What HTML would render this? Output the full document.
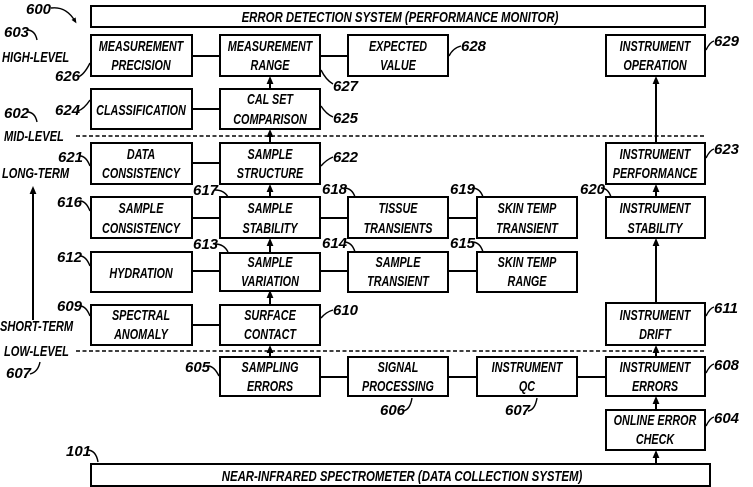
<!DOCTYPE html>
<html><head><meta charset="utf-8"><style>
html,body{margin:0;padding:0;background:#fff}
svg{display:block}
.b{fill:#fff;stroke:#000;stroke-width:2}
.l{stroke:#000;stroke-width:2;fill:none}
.d{stroke:#000;stroke-width:1.6;stroke-dasharray:4,2.5;fill:none}
.c{stroke:#000;stroke-width:1.4;fill:none}
text{font-family:"Liberation Sans",sans-serif;font-weight:bold;font-style:italic;font-size:15px;fill:#000}
.n{font-size:14px}
</style></head><body>
<svg width="753" height="487" viewBox="0 0 753 487" xmlns="http://www.w3.org/2000/svg">
<defs><marker id="a" markerWidth="4" markerHeight="4" refX="2" refY="2" orient="auto"><path d="M0,0.3 L4,2 L0,3.7 z" fill="#000"/></marker></defs>

<rect class="b" x="91" y="6" width="614" height="21"/>
<rect class="b" x="91" y="464" width="619" height="22"/>

<line class="d" x1="76" y1="136" x2="705" y2="136"/>
<line class="d" x1="76" y1="351" x2="705" y2="351"/>

<g class="l">
<line x1="192" y1="56" x2="220" y2="56"/><line x1="320" y1="56" x2="348" y2="56"/>
<line x1="192" y1="109" x2="220" y2="109"/>
<line x1="192" y1="163" x2="220" y2="163"/>
<line x1="192" y1="218" x2="220" y2="218"/><line x1="320" y1="218" x2="348" y2="218"/><line x1="448" y1="218" x2="477" y2="218"/>
<line x1="192" y1="271" x2="220" y2="271"/><line x1="320" y1="271" x2="348" y2="271"/><line x1="448" y1="271" x2="477" y2="271"/>
<line x1="192" y1="325" x2="220" y2="325"/>
<line x1="320" y1="377" x2="348" y2="377"/><line x1="448" y1="377" x2="477" y2="377"/><line x1="577" y1="377" x2="606" y2="377"/>
</g>
<g class="l" marker-end="url(#a)">
<line x1="270" y1="89" x2="270" y2="80"/>
<line x1="270" y1="143" x2="270" y2="133"/>
<line x1="270" y1="197" x2="270" y2="188"/>
<line x1="270" y1="253" x2="270" y2="242"/>
<line x1="270" y1="305" x2="270" y2="294"/>
<line x1="270" y1="357" x2="270" y2="349"/>
<line x1="656" y1="143" x2="656" y2="80"/>
<line x1="656" y1="197" x2="656" y2="188"/>
<line x1="656" y1="303" x2="656" y2="242"/>
<line x1="656" y1="357" x2="656" y2="349"/>
<line x1="656" y1="410" x2="656" y2="400"/>
<line x1="656" y1="464" x2="656" y2="454"/>
<line x1="33" y1="320" x2="33" y2="190"/>
</g>

<g class="b">
<rect x="91" y="35" width="101" height="41"/><rect x="220" y="35" width="100" height="41"/><rect x="348" y="35" width="100" height="41"/><rect x="606" y="35" width="99" height="41"/>
<rect x="91" y="89" width="101" height="40"/><rect x="220" y="89" width="100" height="40"/>
<rect x="91" y="143" width="101" height="41"/><rect x="220" y="143" width="100" height="41"/><rect x="606" y="143" width="99" height="41"/>
<rect x="91" y="197" width="101" height="41"/><rect x="220" y="197" width="100" height="41"/><rect x="348" y="197" width="100" height="41"/><rect x="477" y="197" width="100" height="41"/><rect x="606" y="197" width="99" height="41"/>
<rect x="91" y="252" width="101" height="40"/><rect x="220" y="253" width="100" height="38"/><rect x="348" y="252" width="100" height="40"/><rect x="477" y="252" width="100" height="40"/>
<rect x="91" y="305" width="101" height="40"/><rect x="220" y="305" width="100" height="40"/><rect x="606" y="303" width="99" height="42"/>
<rect x="220" y="357" width="100" height="39"/><rect x="348" y="357" width="100" height="39"/><rect x="477" y="357" width="100" height="39"/><rect x="606" y="357" width="99" height="39"/>
<rect x="606" y="410" width="99" height="40"/>
</g>

<g text-anchor="middle">
<text transform="translate(400,22) scale(0.76,1)">ERROR DETECTION SYSTEM (PERFORMANCE MONITOR)</text>
<text transform="translate(402,481) scale(0.76,1)">NEAR-INFRARED SPECTROMETER (DATA COLLECTION SYSTEM)</text>

<text transform="translate(141,51) scale(0.72,1)">MEASUREMENT</text><text transform="translate(141,70) scale(0.72,1)">PRECISION</text>
<text transform="translate(270,51) scale(0.72,1)">MEASUREMENT</text><text transform="translate(270,70) scale(0.72,1)">RANGE</text>
<text transform="translate(398,51) scale(0.72,1)">EXPECTED</text><text transform="translate(398,70) scale(0.72,1)">VALUE</text>
<text transform="translate(655,51) scale(0.72,1)">INSTRUMENT</text><text transform="translate(655,70) scale(0.72,1)">OPERATION</text>

<text transform="translate(141,115) scale(0.72,1)">CLASSIFICATION</text>
<text transform="translate(270,104) scale(0.72,1)">CAL SET</text><text transform="translate(270,124) scale(0.72,1)">COMPARISON</text>

<text transform="translate(141,159) scale(0.72,1)">DATA</text><text transform="translate(141,178) scale(0.72,1)">CONSISTENCY</text>
<text transform="translate(270,159) scale(0.72,1)">SAMPLE</text><text transform="translate(270,178) scale(0.72,1)">STRUCTURE</text>
<text transform="translate(655,159) scale(0.72,1)">INSTRUMENT</text><text transform="translate(655,178) scale(0.72,1)">PERFORMANCE</text>

<text transform="translate(141,213) scale(0.72,1)">SAMPLE</text><text transform="translate(141,233) scale(0.72,1)">CONSISTENCY</text>
<text transform="translate(270,213) scale(0.72,1)">SAMPLE</text><text transform="translate(270,233) scale(0.72,1)">STABILITY</text>
<text transform="translate(398,213) scale(0.72,1)">TISSUE</text><text transform="translate(398,233) scale(0.72,1)">TRANSIENTS</text>
<text transform="translate(527,213) scale(0.72,1)">SKIN TEMP</text><text transform="translate(527,233) scale(0.72,1)">TRANSIENT</text>
<text transform="translate(655,213) scale(0.72,1)">INSTRUMENT</text><text transform="translate(655,233) scale(0.72,1)">STABILITY</text>

<text transform="translate(141,278) scale(0.72,1)">HYDRATION</text>
<text transform="translate(270,267) scale(0.72,1)">SAMPLE</text><text transform="translate(270,286) scale(0.72,1)">VARIATION</text>
<text transform="translate(398,267) scale(0.72,1)">SAMPLE</text><text transform="translate(398,286) scale(0.72,1)">TRANSIENT</text>
<text transform="translate(527,267) scale(0.72,1)">SKIN TEMP</text><text transform="translate(527,286) scale(0.72,1)">RANGE</text>

<text transform="translate(141,320) scale(0.72,1)">SPECTRAL</text><text transform="translate(141,339) scale(0.72,1)">ANOMALY</text>
<text transform="translate(270,320) scale(0.72,1)">SURFACE</text><text transform="translate(270,339) scale(0.72,1)">CONTACT</text>
<text transform="translate(655,320) scale(0.72,1)">INSTRUMENT</text><text transform="translate(655,339) scale(0.72,1)">DRIFT</text>

<text transform="translate(270,372) scale(0.72,1)">SAMPLING</text><text transform="translate(270,391) scale(0.72,1)">ERRORS</text>
<text transform="translate(398,372) scale(0.72,1)">SIGNAL</text><text transform="translate(398,391) scale(0.72,1)">PROCESSING</text>
<text transform="translate(527,372) scale(0.72,1)">INSTRUMENT</text><text transform="translate(527,391) scale(0.72,1)">QC</text>
<text transform="translate(655,372) scale(0.72,1)">INSTRUMENT</text><text transform="translate(655,391) scale(0.72,1)">ERRORS</text>
<text transform="translate(655,425) scale(0.72,1)">ONLINE ERROR</text><text transform="translate(655,444) scale(0.72,1)">CHECK</text>
</g>

<g>
<text transform="translate(2,62) scale(0.74,1)">HIGH-LEVEL</text>
<text transform="translate(4,141) scale(0.74,1)">MID-LEVEL</text>
<text transform="translate(2,178) scale(0.74,1)">LONG-TERM</text>
<text transform="translate(0,331) scale(0.74,1)">SHORT-TERM</text>
<text transform="translate(4,356) scale(0.74,1)">LOW-LEVEL</text>
</g>
<g class="n">
<text x="26" y="14">600</text><path class="c" d="M51,8 Q66,6 75,21" marker-end="url(#a)"/>
<text x="4" y="37">603</text><path class="c" d="M27,30 Q35,30 37,40"/>
<text x="55" y="81">626</text><path class="c" d="M78,77 Q84,75 90,63"/>
<text x="4" y="118">602</text><path class="c" d="M27,112 Q35,112 37,122"/>
<text x="55" y="115">624</text><path class="c" d="M78,111 Q84,109 90,100"/>
<text x="58" y="162">621</text><path class="c" d="M80,156 Q86,156 90,166"/>
<text x="57" y="207">616</text><path class="c" d="M80,201 Q86,201 90,211"/>
<text x="57" y="262">612</text><path class="c" d="M80,256 Q86,256 90,266"/>
<text x="57" y="311">609</text><path class="c" d="M80,306 Q86,306 90,316"/>
<text x="6" y="378">607</text><path class="c" d="M30,374 Q38,372 40,362"/>
<text x="185" y="372">605</text><path class="c" d="M208,366 Q214,366 219,376"/>
<text x="193" y="195">617</text><path class="c" d="M215,190 Q224,190 228,197"/>
<text x="193" y="249">613</text><path class="c" d="M215,244 Q224,244 228,252"/>
<text x="322" y="194">618</text><path class="c" d="M344,188 Q352,188 355,197"/>
<text x="322" y="248">614</text><path class="c" d="M344,242 Q352,242 355,252"/>
<text x="450" y="194">619</text><path class="c" d="M472,188 Q480,188 483,197"/>
<text x="450" y="248">615</text><path class="c" d="M472,242 Q480,242 483,252"/>
<text x="580" y="194">620</text><path class="c" d="M601,188 Q608,188 611,197"/>
<text x="333" y="91">627</text><path class="c" d="M321,70 Q326,80 333,84"/>
<text x="333" y="123">625</text><path class="c" d="M321,106 Q326,114 333,117"/>
<text x="333" y="162">622</text><path class="c" d="M321,166 Q326,160 333,157"/>
<text x="333" y="315">610</text><path class="c" d="M321,318 Q326,312 333,310"/>
<text x="461" y="51">628</text><path class="c" d="M449,56 Q453,48 461,46"/>
<text x="714" y="46">629</text><path class="c" d="M706,50 Q710,42 714,41"/>
<text x="714" y="154">623</text><path class="c" d="M706,158 Q710,150 714,149"/>
<text x="714" y="313">611</text><path class="c" d="M706,316 Q710,308 714,307"/>
<text x="714" y="370">608</text><path class="c" d="M706,373 Q710,365 714,364"/>
<text x="714" y="423">604</text><path class="c" d="M706,426 Q710,418 714,417"/>
<text x="380" y="415">606</text><path class="c" d="M403,411 Q410,410 412,398"/>
<text x="505" y="415">607</text><path class="c" d="M528,411 Q535,410 537,398"/>
<text x="66" y="456">101</text><path class="c" d="M87,450 Q96,450 98,462"/>
</g>
</svg>
</body></html>
